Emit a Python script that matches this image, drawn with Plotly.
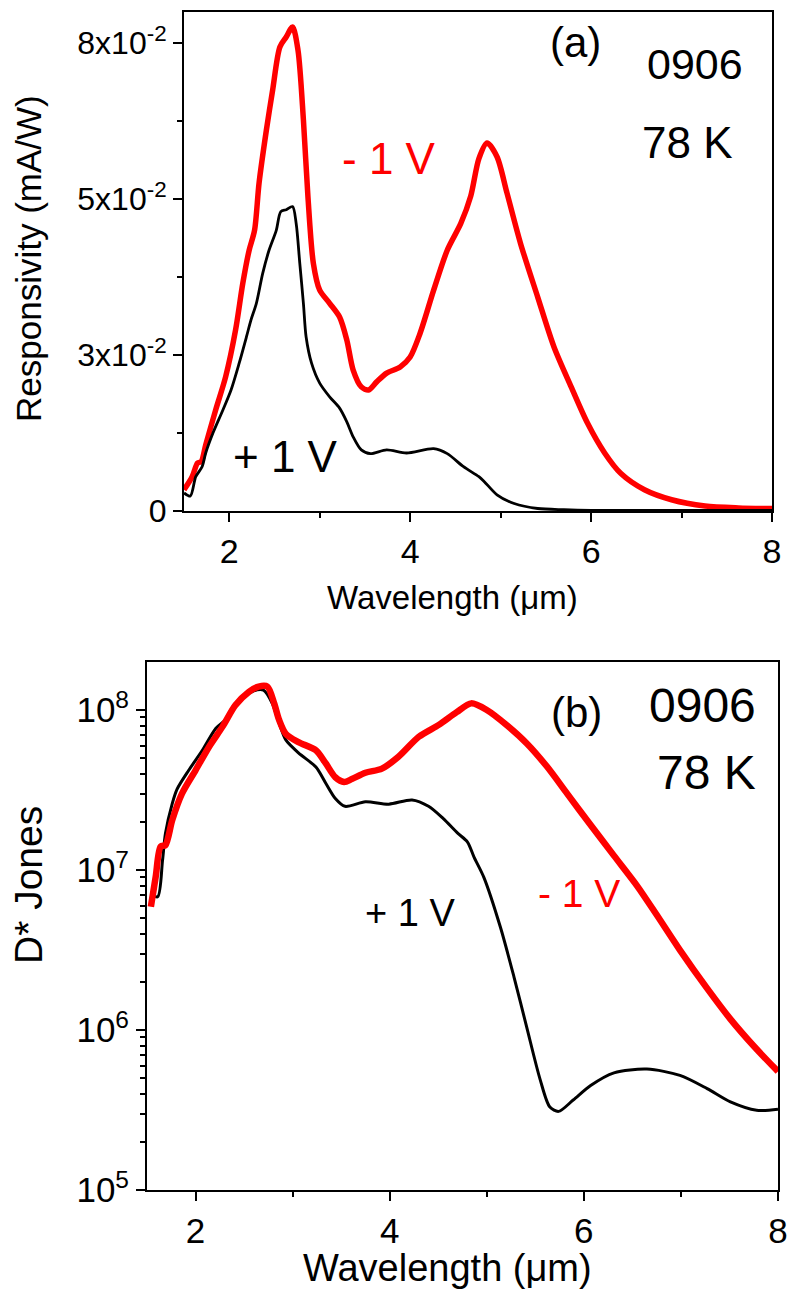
import plotly.graph_objects as go

# ---------------- data: panel (a) responsivity (mA/W) ----------------
xa_red = [1.50,1.59,1.65,1.69,1.74,1.85,1.96,2.07,2.15,2.22,2.28,2.33,2.41,2.48,2.56,2.63,2.70,2.76,2.82,2.87,
          2.93,3.00,3.11,3.22,3.30,3.37,3.46,3.54,3.63,3.74,3.89,4.00,4.11,4.26,4.41,4.56,4.67,4.76,4.85,4.96,
          5.07,5.22,5.41,5.59,5.78,5.96,6.15,6.33,6.59,6.89,7.26,7.63,8.00]
ya_red = [0.0034,0.0055,0.0077,0.0079,0.0106,0.0162,0.0215,0.0290,0.0365,0.0418,0.0450,0.0526,0.0610,0.0675,
          0.0744,0.0760,0.0776,0.0739,0.0627,0.0504,0.0397,0.0354,0.0333,0.0311,0.0274,0.0226,0.0199,0.0194,
          0.0207,0.0221,0.0231,0.0247,0.0285,0.0354,0.0418,0.0461,0.0505,0.0565,0.0590,0.0568,0.0510,0.0429,
          0.0343,0.0263,0.0199,0.0141,0.0093,0.0060,0.0034,0.0018,0.0008,0.0005,0.0004]

xa_blk = [1.50,1.57,1.63,1.70,1.74,1.82,1.93,2.02,2.11,2.19,2.24,2.30,2.37,2.44,2.52,2.57,2.63,2.70,2.74,2.78,
          2.82,2.85,2.91,3.00,3.11,3.22,3.30,3.37,3.46,3.56,3.74,3.96,4.26,4.41,4.59,4.76,4.82,4.96,5.15,5.41,
          5.70,6.00,7.00,8.00]
ya_blk = [0.0029,0.0024,0.0055,0.0071,0.0093,0.0125,0.0162,0.0194,0.0237,0.0279,0.0306,0.0333,0.0381,0.0418,
          0.0450,0.0480,0.0483,0.0488,0.0461,0.0397,0.0333,0.0279,0.0237,0.0205,0.0183,0.0165,0.0143,0.0119,
          0.0098,0.0092,0.0098,0.0093,0.0100,0.0092,0.0071,0.0055,0.0047,0.0026,0.0012,0.0004,0.0002,0.0001,
          0.0001,0.0001]

# ---------------- data: panel (b) D* (Jones) ----------------
xb_red = [1.54,1.59,1.64,1.69,1.76,1.86,2.00,2.14,2.28,2.41,2.55,2.65,2.74,2.81,2.86,2.93,3.06,3.24,3.34,3.44,
          3.53,3.61,3.75,3.92,4.09,4.30,4.51,4.69,4.84,5.00,5.21,5.41,5.62,5.83,6.07,6.31,6.55,6.75,6.99,7.27,
          7.51,7.75,8.00]
yb_red = [5.9e6,9.1e6,1.40e7,1.43e7,2.05e7,3.0e7,4.2e7,5.9e7,7.9e7,1.07e8,1.30e8,1.40e8,1.40e8,1.10e8,8.7e7,
          7.1e7,6.3e7,5.6e7,4.65e7,3.8e7,3.55e7,3.7e7,4.05e7,4.3e7,5.1e7,6.8e7,8.1e7,9.7e7,1.10e8,1.0e8,8.0e7,
          6.2e7,4.43e7,2.99e7,1.91e7,1.23e7,7.94e6,5.25e6,3.16e6,1.82e6,1.17e6,7.94e5,5.5e5]

xb_blk = [1.54,1.61,1.66,1.69,1.76,1.81,1.93,2.07,2.21,2.31,2.45,2.58,2.70,2.79,2.86,2.93,3.06,3.24,3.34,3.44,
          3.54,3.75,3.99,4.23,4.40,4.55,4.70,4.80,4.87,4.97,5.14,5.28,5.41,5.55,5.65,5.74,5.89,6.07,6.31,6.65,
          6.99,7.27,7.51,7.78,8.00]
yb_blk = [7.1e6,6.8e6,1.15e7,1.69e7,2.6e7,3.2e7,4.2e7,5.6e7,7.7e7,8.7e7,1.13e8,1.30e8,1.33e8,1.10e8,8.3e7,
          6.5e7,5.4e7,4.4e7,3.5e7,2.8e7,2.5e7,2.67e7,2.58e7,2.74e7,2.5e7,2.1e7,1.7e7,1.5e7,1.2e7,9.0e6,4.4e6,
          2.15e6,1.05e6,4.9e5,3.3e5,3.1e5,3.65e5,4.5e5,5.4e5,5.7e5,5.2e5,4.3e5,3.55e5,3.15e5,3.2e5]

# ---------------- tick labels ----------------
xa_tickvals = [2, 4, 6, 8]
xa_ticktext = ["2", "4", "6", "8"]
ya_tickvals = [0, 0.025, 0.05, 0.075]
ya_ticktext = ["0", "3x10<sup>-2</sup>", "5x10<sup>-2</sup>", "8x10<sup>-2</sup>"]
yb_tickvals = [1e5, 1e6, 1e7, 1e8]
yb_exponents = ["5", "6", "7", "8"]
yb_ticktext = ["10<sup>%s</sup>" % e for e in yb_exponents]
yb_minor = [m * 10 ** e for e in range(5, 9) for m in range(2, 10)]

W, H = 791, 1291
FONT = "Liberation Sans, Arial, sans-serif"

def px(x):
    return x / W

def py(y):
    return 1 - y / H

fig = go.Figure()
fig.add_trace(go.Scatter(x=xa_red, y=ya_red, mode="lines", line=dict(color="#ff0000", width=5.5, shape="spline", smoothing=0.8),
                         xaxis="x", yaxis="y", showlegend=False))
fig.add_trace(go.Scatter(x=xa_blk, y=ya_blk, mode="lines", line=dict(color="black", width=2.8, shape="spline", smoothing=0.8),
                         xaxis="x", yaxis="y", showlegend=False))
fig.add_trace(go.Scatter(x=xb_blk, y=yb_blk, mode="lines", line=dict(color="black", width=3, shape="spline", smoothing=0.8),
                         xaxis="x2", yaxis="y2", showlegend=False))
fig.add_trace(go.Scatter(x=xb_red, y=yb_red, mode="lines", line=dict(color="#ff0000", width=6.5, shape="spline", smoothing=0.8),
                         xaxis="x2", yaxis="y2", showlegend=False))

axis_common = dict(showline=True, linecolor="black", linewidth=2, mirror=True, showgrid=False, zeroline=False,
                   ticks="outside", tickcolor="black", tickwidth=2, ticklen=9, automargin=False)

fig.update_layout(
    width=W, height=H,
    margin=dict(l=0, r=0, t=0, b=0),
    paper_bgcolor="white", plot_bgcolor="white",
    font=dict(family=FONT, color="black"),
    xaxis=dict(domain=[px(184), px(772)], range=[1.5, 8], anchor="y",
               tickmode="array", tickvals=xa_tickvals, ticktext=xa_ticktext,
               tickfont=dict(size=34, family=FONT, color="black"),
               minor=dict(ticks="outside", ticklen=5, tickwidth=2, tickcolor="black", dtick=1, tick0=0),
               **axis_common),
    yaxis=dict(domain=[py(511), py(12)], range=[0, 0.08], anchor="x",
               tickmode="array", tickvals=ya_tickvals, ticktext=ya_ticktext,
               tickfont=dict(size=32, family=FONT, color="black"),
               minor=dict(ticks="outside", ticklen=5, tickwidth=2, tickcolor="black", dtick=0.0125, tick0=0),
               **axis_common),
    xaxis2=dict(domain=[px(147), px(778)], range=[1.5, 8], anchor="y2",
                tickmode="array", tickvals=xa_tickvals, ticktext=xa_ticktext,
                tickfont=dict(size=35, family=FONT, color="black"),
                minor=dict(ticks="outside", ticklen=5, tickwidth=2, tickcolor="black", dtick=1, tick0=0),
                **axis_common),
    yaxis2=dict(domain=[py(1190), py(662)], type="log", range=[5, 8.3], anchor="x2",
                tickmode="array", tickvals=yb_tickvals, ticktext=yb_ticktext,
                tickfont=dict(size=35, family=FONT, color="black"),
                minor=dict(ticks="outside", ticklen=5, tickwidth=2, tickcolor="black",
                           tickmode="array", tickvals=yb_minor),
                **axis_common),
)

def ann(text, x, y, size, color="black", angle=0):
    fig.add_annotation(text=text, x=px(x), y=py(y), xref="paper", yref="paper",
                       showarrow=False, xanchor="center", yanchor="middle", textangle=angle,
                       font=dict(size=size, color=color, family=FONT))

# panel (a)
ann("(a)", 575, 42, 42)
ann("0906", 695, 64, 43)
ann("78 K", 687, 142, 44)
ann("- 1 V", 389, 158, 44, color="#ff0000")
ann("+ 1 V", 285, 456, 44)
ann("Responsivity (mA/W)", 29, 259, 35, angle=-90)
ann("Wavelength (\u03bcm)", 452, 598, 33)

# panel (b)
ann("(b)", 576, 712, 42)
ann("0906", 702, 705, 48)
ann("78 K", 706, 772, 48)
ann("- 1 V", 579, 893, 39, color="#ff0000")
ann("+ 1 V", 410, 913, 38)
ann("Wavelength (\u03bcm)", 447, 1268, 38)
ann("D* Jones", 28, 885, 39, angle=-90)

fig.write_html("out.html")
